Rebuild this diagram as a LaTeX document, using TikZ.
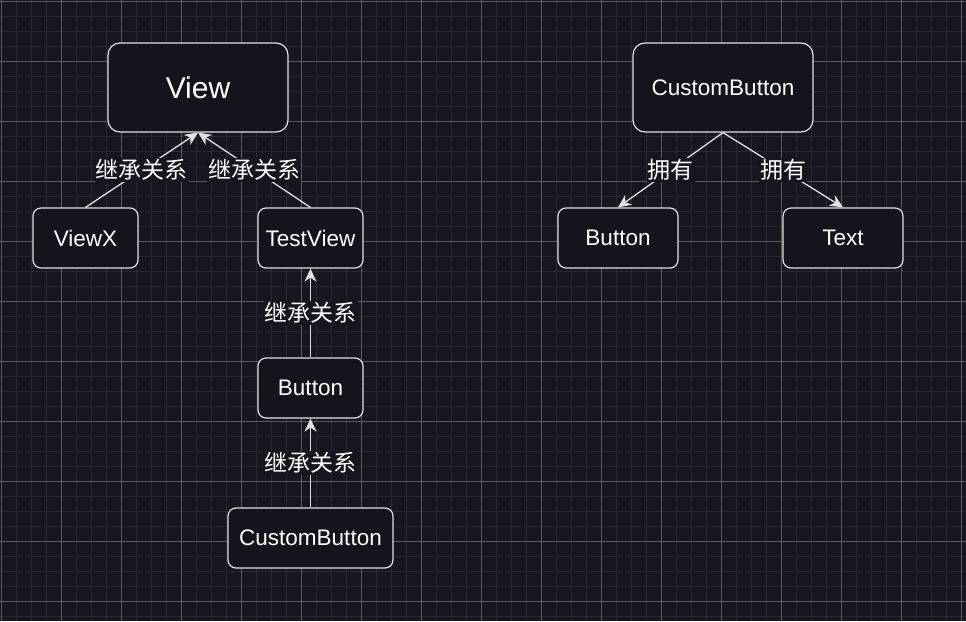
\documentclass[tikz,border=0pt]{standalone}
\usepackage{fontspec}
\setmainfont{Liberation Sans}
\newfontfamily\cjk{Noto Sans CJK SC}
\usetikzlibrary{arrows.meta}

\definecolor{bgdark}{RGB}{24,21,30}
\definecolor{gridminor}{RGB}{42,40,48}
\definecolor{gridmajor}{RGB}{92,90,98}
\definecolor{boxfill}{RGB}{22,19,28}
\definecolor{lineclr}{RGB}{225,225,225}

\tikzset{
  box/.style={rectangle, rounded corners=8pt, draw=lineclr, line width=1.2pt,
    fill=boxfill, text=white, font=\fontsize{22.5}{26}\selectfont,
    minimum width=105pt, minimum height=60pt, inner sep=0pt},
  bigbox/.style={box, rounded corners=12pt, minimum width=180pt, minimum height=89pt},
  rel/.style={draw=lineclr, line width=1.3pt, -{Stealth[length=13pt,width=12pt,inset=4pt]}},
  tag/.style={fill=bgdark, text=white, inner sep=1pt, font=\cjk\fontsize{23}{26}\selectfont}
}

\begin{document}
\begin{tikzpicture}[x=1pt, y=-1pt]
 	% Background and grid
 	\fill[bgdark] (0,0) rectangle (966,621);
 	\useasboundingbox (0,0) rectangle (966,621);
 	\foreach \i in {0,...,64} \draw[gridminor, line width=1pt] (1.7+15*\i,0) -- (1.7+15*\i,621);
 	\foreach \i in {0,...,41} \draw[gridminor, line width=1pt] (0,1.7+15*\i) -- (966,1.7+15*\i);
 	\foreach \i in {0,...,16} \draw[gridmajor, line width=0.9pt] (1.7+60*\i,0) -- (1.7+60*\i,621);
 	\foreach \i in {0,...,10} \draw[gridmajor, line width=0.9pt] (0,1.7+60*\i) -- (966,1.7+60*\i);
 	% Nodes
 	\node[bigbox, font=\fontsize{30}{34}\selectfont] (view) at (198,87.5) {View};
 	\node[box] (viewx) at (85.5,238) {ViewX};
 	\node[box] (testview) at (310.5,238) {TestView};
 	\node[box] (button) at (310.5,388) {Button};
 	\node[box, minimum width=165pt] (custombutton) at (310.5,538) {CustomButton};
 	\node[bigbox] (cb_owner) at (723,87.5) {CustomButton};
 	\node[box, minimum width=120pt] (cb_button) at (618,238) {Button};
 	\node[box, minimum width=120pt] (cb_text) at (843,238) {Text};
 	% Edges
 	\draw[rel] (viewx.north) -- (view.south) node[midway, tag] {继承关系};
 	\draw[rel] (testview.north) -- (view.south) node[midway, tag] {继承关系};
 	\draw[rel] (button.north) -- (testview.south) node[midway, tag] {继承关系};
 	\draw[rel] (custombutton.north) -- (button.south) node[midway, tag] {继承关系};
 	\draw[rel] (cb_owner.south) -- (cb_button.north) node[midway, tag] {拥有};
 	\draw[rel] (cb_owner.south) -- (cb_text.north) node[midway, tag] {拥有};
\end{tikzpicture}
\end{document}
